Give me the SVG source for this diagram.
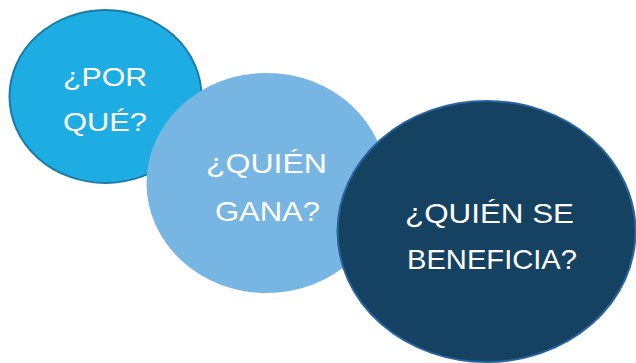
<svg xmlns="http://www.w3.org/2000/svg" width="636" height="363" viewBox="0 0 636 363">
  <style>
    .lbl { font-family: "Liberation Sans", "DejaVu Sans", sans-serif; fill: #ffffff; text-anchor: middle; }
  </style>
  <rect width="636" height="363" fill="#ffffff"/>
  <g id="node-por-que">
    <ellipse cx="105.5" cy="96.5" rx="96" ry="86.5" fill="#1eade2" stroke="#1a7ca6" stroke-width="2"/>
    <text class="lbl" x="105" y="86" font-size="25" textLength="84" lengthAdjust="spacingAndGlyphs">¿POR</text>
    <text class="lbl" x="105" y="131" font-size="25" textLength="84" lengthAdjust="spacingAndGlyphs">QUÉ?</text>
  </g>
  <g id="node-quien-gana">
    <ellipse cx="266.5" cy="183" rx="120" ry="110" fill="#77b5e2"/>
    <text class="lbl" x="266.5" y="173" font-size="28.5" textLength="121" lengthAdjust="spacingAndGlyphs">¿QUIÉN</text>
    <text class="lbl" x="267.5" y="221" font-size="28.5" textLength="105" lengthAdjust="spacingAndGlyphs">GANA?</text>
  </g>
  <g id="node-quien-se-beneficia">
    <ellipse cx="486.5" cy="231.5" rx="149" ry="130.5" fill="#164262" stroke="#2a64a0" stroke-width="2"/>
    <text class="lbl" x="489.5" y="223" font-size="28" textLength="169" lengthAdjust="spacingAndGlyphs">¿QUIÉN SE</text>
    <text class="lbl" x="492" y="269" font-size="28" textLength="170" lengthAdjust="spacingAndGlyphs">BENEFICIA?</text>
  </g>
  <g id="connectors"/>
</svg>
